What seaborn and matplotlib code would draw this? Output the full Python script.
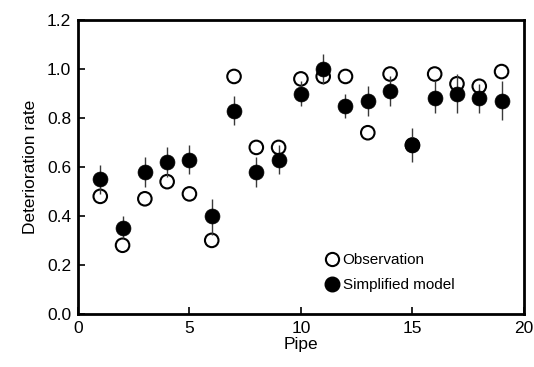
import numpy as np
import pandas as pd
import matplotlib
matplotlib.use("Agg")
import matplotlib.pyplot as plt
from matplotlib.lines import Line2D
import seaborn as sns

# ── Data
pipes = np.arange(1, 20)
observed = [0.48, 0.28, 0.47, 0.54, 0.49, 0.30, 0.97, 0.68, 0.68, 0.96,
            0.97, 0.97, 0.74, 0.98, 0.69, 0.98, 0.94, 0.93, 0.99]
model    = [0.55, 0.35, 0.58, 0.62, 0.63, 0.40, 0.83, 0.58, 0.63, 0.90,
            1.00, 0.85, 0.87, 0.91, 0.69, 0.88, 0.90, 0.88, 0.87]
model_lo = [0.49, 0.31, 0.52, 0.56, 0.57, 0.32, 0.77, 0.52, 0.57, 0.85,
            0.94, 0.80, 0.81, 0.85, 0.62, 0.82, 0.82, 0.82, 0.79]
model_hi = [0.61, 0.40, 0.64, 0.68, 0.69, 0.47, 0.89, 0.64, 0.69, 0.95,
            1.06, 0.90, 0.93, 0.97, 0.76, 0.95, 0.98, 0.94, 0.95]
x_ticks = [0, 5, 10, 15, 20]
y_ticks = [0.0, 0.2, 0.4, 0.6, 0.8, 1.0, 1.2]

df = pd.DataFrame({
    "pipe": pipes,
    "observed": observed,
    "model": model,
    "lo": model_lo,
    "hi": model_hi,
})

plt.rcParams["font.family"] = ["Liberation Sans", "DejaVu Sans"]

fig, ax = plt.subplots(figsize=(5.34, 3.67), dpi=100)
fig.subplots_adjust(left=0.146, right=0.981, bottom=0.145, top=0.945)

sns.scatterplot(data=df, x="pipe", y="observed", ax=ax, s=95,
                facecolor="none", edgecolor="black", linewidth=1.5,
                legend=False, zorder=2)
ax.vlines(df["pipe"], df["lo"], df["hi"], color="#3a3a3a", linewidth=1.0, zorder=3)
sns.scatterplot(data=df, x="pipe", y="model", ax=ax, s=115,
                color="black", edgecolor="black", linewidth=0.5,
                legend=False, zorder=4)

ax.set_xlim(0, 20)
ax.set_ylim(0, 1.2)
ax.set_xticks(x_ticks)
ax.set_yticks(y_ticks)
ax.set_yticklabels([f"{v:.1f}" for v in y_ticks])
ax.tick_params(direction="in", length=5, width=1.2, labelsize=12.5, pad=5,
               color="#000000")
for sp in ax.spines.values():
    sp.set_linewidth(2.0)
    sp.set_edgecolor("#000000")

ax.set_xlabel("Pipe", fontsize=12.5, labelpad=1)
ax.set_ylabel("Deterioration rate", fontsize=12.5, labelpad=6)

handles = [
    Line2D([], [], ls="none", marker="o", markersize=9.5, markerfacecolor="none",
           markeredgecolor="black", markeredgewidth=1.5),
    Line2D([], [], ls="none", marker="o", markersize=10.5, color="black"),
]
ax.legend(handles, ["Observation", "Simplified model"], loc="center left",
          bbox_to_anchor=(0.53, 0.14), frameon=False, fontsize=11,
          handletextpad=0.05, handlelength=1.3, labelspacing=0.75, borderpad=0)

fig.savefig("out.png", dpi=100)
